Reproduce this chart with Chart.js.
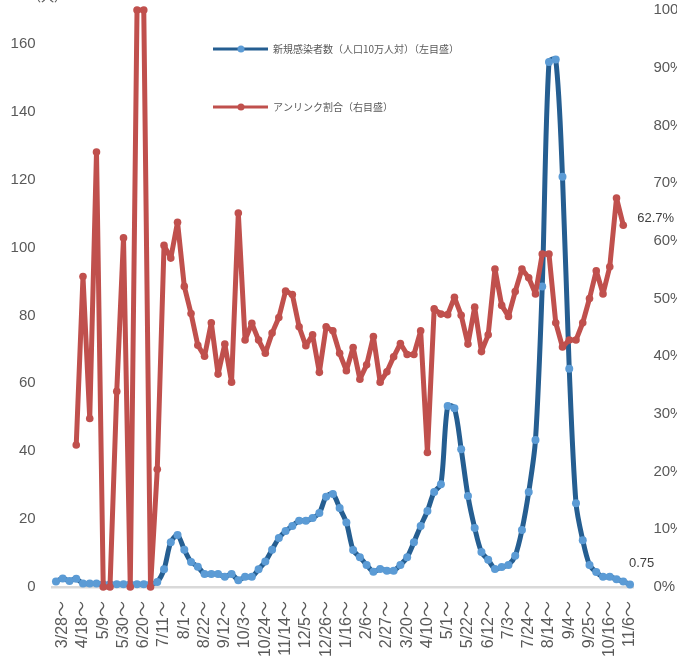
<!DOCTYPE html>
<html><head><meta charset="utf-8">
<script src="https://cdn.jsdelivr.net/npm/chart.js@4/dist/chart.umd.min.js"></script>
<style>html,body{margin:0;padding:0;background:#fff;overflow:hidden}#wrap{width:677px;height:663px;position:relative}</style>
</head><body><div id="wrap"><canvas id="c" width="677" height="663"></canvas></div>
<script>
// weekly start dates (2020/3/21 ～ 2021/11/6)
const weeks = ['3/21','3/28','4/4','4/11','4/18','4/25','5/2','5/9','5/16','5/23','5/30','6/6','6/13','6/20','6/27','7/4','7/11','7/18','7/25','8/1','8/8','8/15','8/22','8/29','9/5','9/12','9/19','9/26','10/3','10/10','10/17','10/24','10/31','11/7','11/14','11/21','11/28','12/5','12/12','12/19','12/26',
 '1/2','1/9','1/16','1/23','1/30','2/6','2/13','2/20','2/27','3/6','3/13','3/20','3/27','4/3','4/10','4/17','4/24','5/1','5/8','5/15','5/22','5/29','6/5','6/12','6/19','6/26','7/3','7/10','7/17','7/24','7/31','8/7','8/14','8/21','8/28','9/4','9/11','9/18','9/25','10/2','10/9','10/16','10/23','10/30','11/6'];

// 新規感染者数（人口10万人対）
const newCases = [1.6,2.5,1.8,2.4,1.0,1.0,1.0,0.8,0.8,0.8,0.8,0.8,0.8,0.8,0.8,1.5,5.2,13.2,15.3,11.0,
 7.4,6.0,3.8,3.8,3.8,3.0,3.8,2.0,3.0,3.0,5.2,7.5,11.0,14.4,16.5,18.0,19.5,19.5,20.3,21.8,
 26.6,27.4,23.3,19.0,10.9,8.8,6.5,4.5,5.3,4.8,4.8,6.5,8.8,13.2,18.0,22.4,28.0,30.3,53.3,52.7,
 40.6,26.8,17.4,10.3,8.0,5.3,5.9,6.5,9.2,16.8,28.0,43.3,88.5,154.7,155.4,120.9,64.3,24.7,13.8,6.5,
 4.4,3.0,3.0,2.3,1.6,0.75];

// アンリンク割合（%）
const unlinkedPct = [null,null,null,24.6,53.8,29.2,75.4,0,0,33.9,60.5,0,100,100,0,20.4,59.2,57.0,63.2,52.1,
 47.4,41.9,40.0,45.8,36.9,42.1,35.5,64.8,42.8,45.7,42.8,40.5,44.0,46.7,51.3,50.7,45.1,41.8,43.7,37.2,
 45.1,44.4,40.5,37.5,41.5,36.0,38.5,43.4,35.5,37.3,39.9,42.2,40.3,40.3,44.4,23.3,48.2,47.3,47.2,50.2,
 47.1,42.1,48.5,40.8,43.7,55.1,48.8,46.9,51.2,55.1,53.6,50.8,57.7,57.7,45.8,41.6,42.8,42.8,45.8,50.0,
 54.8,50.8,55.5,67.4,62.7,null];

const seriesNames = ['新規感染者数（人口10万人対）（左目盛）','アンリンク割合（右目盛）'];
const leftMax = 170, leftStep = 20, rightMax = 100, rightStep = 10;
const labelEvery = 3, labelFirst = 1;

const FONT = "'Liberation Sans','Noto Sans CJK JP',sans-serif";
Chart.defaults.font.family = FONT;
Chart.defaults.color = '#595959';

function zeroPad(s) { s.paddingTop = 0; s.paddingBottom = 0; s.paddingLeft = 0; s.paddingRight = 0; }

const overlay = {
  id: 'overlay',
  afterDraw(chart) {
    const ctx = chart.ctx;
    ctx.save();
    ctx.fillStyle = '#595959';
    ctx.font = "13px 'Noto Sans CJK JP'";
    ctx.textBaseline = 'alphabetic';
    ctx.textAlign = 'left';
    ctx.fillText('（人）', 28, 1);
    const rows = [{i:0, y:49},{i:1, y:107}];
    rows.forEach(r => {
      const ds = chart.data.datasets[r.i];
      ctx.strokeStyle = ds.borderColor;
      ctx.lineWidth = 3;
      ctx.beginPath(); ctx.moveTo(213, r.y); ctx.lineTo(268, r.y); ctx.stroke();
      ctx.fillStyle = ds.pointBackgroundColor;
      ctx.beginPath(); ctx.arc(241, r.y, 3.5, 0, Math.PI*2); ctx.fill();
      ctx.fillStyle = '#595959';
      ctx.font = "10px 'Noto Sans CJK JP'";
      ctx.textBaseline = 'middle';
      ctx.fillText(ds.label, 273, r.y);
    });
    ctx.font = "13px " + FONT;
    ctx.fillStyle = '#404040';
    ctx.textBaseline = 'middle';
    const redMeta = chart.getDatasetMeta(1);
    let lastR = -1; unlinkedPct.forEach((v,i)=>{ if (v!==null) lastR = i; });
    const pr = redMeta.data[lastR];
    ctx.fillText(unlinkedPct[lastR].toFixed(1) + '%', pr.x + 14, pr.y - 7);
    const blueMeta = chart.getDatasetMeta(0);
    const lastB = newCases.length - 1;
    const pb = blueMeta.data[lastB];
    ctx.fillText(String(newCases[lastB]), pb.x - 1, pb.y - 21);
    ctx.restore();
  }
};

new Chart(document.getElementById('c'), {
  type: 'line',
  data: {
    labels: weeks,
    datasets: [
      { label: seriesNames[0], data: newCases, yAxisID: 'y',
        borderColor: '#255e91', backgroundColor: '#5b9bd5', pointBackgroundColor: '#5b9bd5',
        pointBorderWidth: 0, pointRadius: 4, borderWidth: 5, tension: 0.3, clip: false, order: 1,
        borderJoinStyle: 'round', borderCapStyle: 'round' },
      { label: seriesNames[1], data: unlinkedPct, yAxisID: 'y2',
        borderColor: '#c0504d', backgroundColor: '#c0504d', pointBackgroundColor: '#c0504d',
        pointBorderWidth: 0, pointRadius: 3.8, borderWidth: 5, tension: 0, clip: false, order: 0, spanGaps: false,
        borderJoinStyle: 'round', borderCapStyle: 'round' }
    ]
  },
  options: {
    responsive: false, animation: false, devicePixelRatio: 1,
    layout: { padding: { top: 10, left: 0, right: 0, bottom: 0 } },
    plugins: { legend: { display: false }, tooltip: { enabled: false } },
    scales: {
      x: {
        offset: true,
        grid: { display: false, drawTicks: false },
        border: { display: true, color: '#d9d9d9', width: 2.5 },
        ticks: { autoSkip: false, maxRotation: 90, minRotation: 90, padding: 14, color: '#595959',
          font: { size: 16 },
          callback: (v, i) => ((i - labelFirst) % labelEvery === 0 && i >= labelFirst) ? weeks[i] + '～' : null },
        afterFit: s => { s.height = 76; zeroPad(s); }
      },
      y: {
        position: 'left', min: 0, max: leftMax,
        grid: { display: false, drawTicks: false }, border: { display: false },
        ticks: { stepSize: leftStep, padding: 17, color: '#595959', font: { size: 15 } },
        afterBuildTicks: s => { s.ticks = s.ticks.filter(t => t.value % leftStep === 0); },
        afterFit: s => { s.width = 52.6; zeroPad(s); }
      },
      y2: {
        position: 'right', min: 0, max: rightMax,
        grid: { display: false, drawTicks: false }, border: { display: false },
        ticks: { stepSize: rightStep, padding: 20, color: '#595959', font: { size: 15 }, callback: v => v + '%' },
        afterFit: s => { s.width = 43.6; zeroPad(s); }
      }
    }
  },
  plugins: [overlay]
});
</script></body></html>
